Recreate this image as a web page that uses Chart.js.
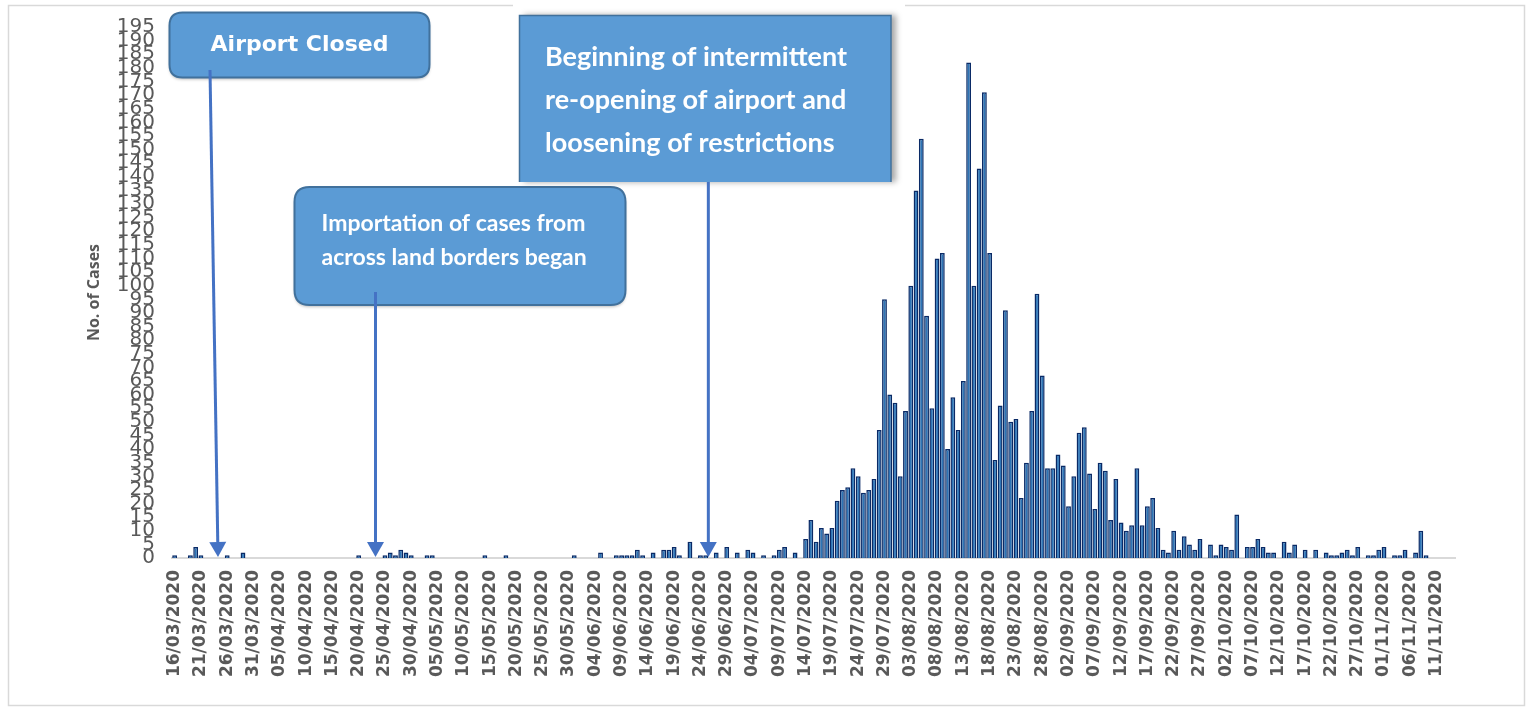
<!DOCTYPE html>
<html>
<head>
<meta charset="utf-8">
<script src="https://cdn.jsdelivr.net/npm/chart.js@4.4.1/dist/chart.umd.min.js"></script>
<style>
  html, body { margin: 0; padding: 0; background: #ffffff; }
  #wrap { position: relative; width: 1531px; height: 711px; }
</style>
</head>
<body>
<div id="wrap"><canvas id="c"></canvas></div>
<script>
// ---- Data ----
const START_DATE = [2020, 2, 16];   // 16/03/2020
const DAY_COUNT = 244;              // 16/03/2020 .. 14/11/2020
const LABEL_EVERY = 5;
const LAST_LABEL_INDEX = 240;       // 11/11/2020

// daily new cases, index 0 = 16/03/2020
const cases = [
  1,0,0,1,4,1,0,0,0,0,          // 16/03 - 25/03
  1,0,0,2,0,0,0,0,0,0,          // 26/03 - 04/04
  0,0,0,0,0,0,0,0,0,0,          // 05/04 - 14/04
  0,0,0,0,0,1,0,0,0,0,          // 15/04 - 24/04
  1,2,1,3,2,1,0,0,1,1,          // 25/04 - 04/05
  0,0,0,0,0,0,0,0,0,1,          // 05/05 - 14/05
  0,0,0,1,0,0,0,0,0,0,          // 15/05 - 24/05
  0,0,0,0,0,0,1,0,0,0,          // 25/05 - 03/06
  0,2,0,0,1,1,1,1,3,1,          // 04/06 - 13/06
  0,2,0,3,3,4,1,0,6,0,          // 14/06 - 23/06
  1,1,0,2,0,4,0,2,0,3,          // 24/06 - 03/07
  2,0,1,0,1,3,4,0,2,0,          // 04/07 - 13/07
  7,14,6,11,9,11,21,25,26,33,   // 14/07 - 23/07
  30,24,25,29,47,95,60,57,30,54, // 24/07 - 02/08
  100,135,154,89,55,110,112,40,59,47, // 03/08 - 12/08
  65,182,100,143,171,112,36,56,91,50, // 13/08 - 22/08
  51,22,35,54,97,67,33,33,38,34, // 23/08 - 01/09
  19,30,46,48,31,18,35,32,14,29, // 02/09 - 11/09
  13,10,12,33,12,19,22,11,3,2,   // 12/09 - 21/09
  10,3,8,5,3,7,0,5,1,5,          // 22/09 - 01/10
  4,3,16,0,4,4,7,4,2,2,          // 02/10 - 11/10
  0,6,2,5,0,3,0,3,0,2,           // 12/10 - 21/10
  1,1,2,3,1,4,0,1,1,3,           // 22/10 - 31/10
  4,0,1,1,3,0,2,10,1,0,          // 01/11 - 10/11
  0,0,0,0                        // 11/11 - 14/11
];

const yTicks = { min: 0, max: 195, step: 5 };

// annotation texts and the (fractional) day index each arrow points at
const notes = [
  { lines: ['Airport Closed'], at: 8.25 },
  { lines: ['Importation of cases from', 'across land borders began'], at: 38.2 },
  { lines: ['Beginning of intermittent', 're-opening of airport and', 'loosening of restrictions'], at: 101.5 }
];

// ---- Category labels (dates) ----
function pad(n) { return (n < 10 ? '0' : '') + n; }
const dates = [];
for (let i = 0; i < DAY_COUNT; i++) {
  const d = new Date(Date.UTC(START_DATE[0], START_DATE[1], START_DATE[2] + i));
  dates.push(pad(d.getUTCDate()) + '/' + pad(d.getUTCMonth() + 1) + '/' + d.getUTCFullYear());
}

// ---- Layout constants ----
const PAD_LEFT = 85, PAD_RIGHT = 76, PAD_TOP = 17;
const CHART_LEFT = 172, CHART_BOTTOM = 558, H = 711;

function roundRect(ctx, x, y, w, h, r) {
  ctx.beginPath();
  ctx.moveTo(x + r, y);
  ctx.lineTo(x + w - r, y);
  ctx.quadraticCurveTo(x + w, y, x + w, y + r);
  ctx.lineTo(x + w, y + h - r);
  ctx.quadraticCurveTo(x + w, y + h, x + w - r, y + h);
  ctx.lineTo(x + r, y + h);
  ctx.quadraticCurveTo(x, y + h, x, y + h - r);
  ctx.lineTo(x, y + r);
  ctx.quadraticCurveTo(x, y, x + r, y);
  ctx.closePath();
}

function arrow(ctx, x1, y1, x2, y2) {
  ctx.save();
  ctx.strokeStyle = '#4472C4';
  ctx.fillStyle = '#4472C4';
  ctx.lineWidth = 3;
  const a = Math.atan2(y2 - y1, x2 - x1);
  const hl = 15, hw = 8.5;
  const bx = x2 - hl * Math.cos(a), by = y2 - hl * Math.sin(a);
  ctx.beginPath(); ctx.moveTo(x1, y1); ctx.lineTo(bx, by); ctx.stroke();
  ctx.beginPath();
  ctx.moveTo(x2, y2);
  ctx.lineTo(bx + hw * Math.sin(a), by - hw * Math.cos(a));
  ctx.lineTo(bx - hw * Math.sin(a), by + hw * Math.cos(a));
  ctx.closePath(); ctx.fill();
  ctx.restore();
}

function idxPixel(scale, f) {
  const i = Math.floor(f);
  const p0 = scale.getPixelForValue(i), p1 = scale.getPixelForValue(i + 1);
  return p0 + (f - i) * (p1 - p0);
}

const framePlugin = {
  id: 'frame',
  beforeDraw(chart) {
    const ctx = chart.ctx;
    ctx.save();
    ctx.fillStyle = '#ffffff';
    ctx.fillRect(0, 0, chart.width, chart.height);
    ctx.strokeStyle = '#d9d9d9';
    ctx.lineWidth = 1.5;
    ctx.beginPath();
    ctx.moveTo(513, 5.5); ctx.lineTo(8.5, 5.5); ctx.lineTo(8.5, 705.5);
    ctx.lineTo(1524.5, 705.5); ctx.lineTo(1524.5, 5.5); ctx.lineTo(905, 5.5);
    ctx.stroke();
    ctx.restore();
  },
  afterDraw(chart) {
    const ctx = chart.ctx;
    const xs = chart.scales.x;
    const base = chart.chartArea.bottom - 1;
    ctx.save();
    // Box 1
    ctx.save();
    ctx.shadowColor = 'rgba(0,0,0,0.25)'; ctx.shadowBlur = 3; ctx.shadowOffsetY = 2;
    roundRect(ctx, 169.5, 12.5, 260, 65, 13);
    ctx.fillStyle = '#5B9BD5'; ctx.fill();
    ctx.restore();
    roundRect(ctx, 169.5, 12.5, 260, 65, 13);
    ctx.strokeStyle = '#41719C'; ctx.lineWidth = 2; ctx.stroke();
    ctx.fillStyle = '#ffffff';
    ctx.textAlign = 'center'; ctx.textBaseline = 'alphabetic';
    ctx.font = 'bold 22px "DejaVu Sans"';
    ctx.fillText(notes[0].lines[0], 299.5, 50.5, 186);

    // Box 2
    ctx.save();
    ctx.shadowColor = 'rgba(0,0,0,0.25)'; ctx.shadowBlur = 3; ctx.shadowOffsetY = 2;
    roundRect(ctx, 294.5, 187, 331, 118, 15);
    ctx.fillStyle = '#5B9BD5'; ctx.fill();
    ctx.restore();
    roundRect(ctx, 294.5, 187, 331, 118, 15);
    ctx.strokeStyle = '#41719C'; ctx.lineWidth = 2; ctx.stroke();
    ctx.fillStyle = '#ffffff';
    ctx.textAlign = 'left';
    ctx.font = 'bold 23px "Lato"';
    ctx.fillText(notes[1].lines[0], 321.5, 230.5, 269);
    ctx.fillText(notes[1].lines[1], 321.5, 265, 270);

    // Box 3
    ctx.save();
    ctx.shadowColor = 'rgba(0,0,0,0.35)'; ctx.shadowBlur = 6; ctx.shadowOffsetX = 5;
    ctx.fillStyle = '#5B9BD5';
    ctx.fillRect(519, 15, 372, 167);
    ctx.restore();
    ctx.strokeStyle = '#41719C'; ctx.lineWidth = 1.5;
    ctx.beginPath(); ctx.moveTo(519.5, 182); ctx.lineTo(519.5, 15.5); ctx.lineTo(891, 15.5); ctx.lineTo(891, 182); ctx.stroke();
    ctx.fillStyle = '#ffffff';
    ctx.font = 'bold 27px "Lato"';
    ctx.fillText(notes[2].lines[0], 545, 66, 312);
    ctx.fillText(notes[2].lines[1], 545, 108.5, 310);
    ctx.fillText(notes[2].lines[2], 545, 151.5, 296);

    // Arrows
    arrow(ctx, 210, 70, idxPixel(xs, notes[0].at), base);
    const x2 = idxPixel(xs, notes[1].at);
    arrow(ctx, x2, 292, x2, base);
    const x3 = idxPixel(xs, notes[2].at);
    arrow(ctx, x3, 182, x3, base);
    ctx.restore();
  }
};

new Chart(document.getElementById('c'), {
  type: 'bar',
  data: {
    labels: dates,
    datasets: [{
      data: cases,
      backgroundColor: '#2E75B6',
      borderColor: '#0A2A66',
      borderWidth: 1.5,
      barPercentage: 0.92,
      categoryPercentage: 1.0
    }]
  },
  options: {
    responsive: true,
    maintainAspectRatio: false,
    animation: false,
    devicePixelRatio: 1,
    layout: { padding: { left: PAD_LEFT, right: PAD_RIGHT, top: PAD_TOP, bottom: 0 } },
    plugins: { legend: { display: false }, tooltip: { enabled: false } },
    scales: {
      x: {
        grid: { display: false, drawTicks: false },
        border: { display: true, color: '#d9d9d9', width: 2 },
        ticks: {
          autoSkip: false, maxRotation: 90, minRotation: 90, padding: 12,
          color: '#595959',
          font: { family: 'DejaVu Sans', weight: 'bold', size: 17 },
          callback: (v, i) => (i % LABEL_EVERY === 0 && i <= LAST_LABEL_INDEX) ? dates[i] : ''
        },
        afterFit: s => { s.height = H - CHART_BOTTOM; }
      },
      y: {
        min: yTicks.min, max: yTicks.max,
        grid: { display: false, drawTicks: false },
        border: { display: false },
        ticks: {
          stepSize: yTicks.step, autoSkip: false, maxTicksLimit: 100, padding: 17,
          color: '#595959',
          font: { family: 'DejaVu Sans', size: 20, lineHeight: 1.0 }
        },
        title: {
          display: true, text: 'No. of Cases', color: '#595959', padding: 0,
          font: { family: 'Open Sans', weight: 'bold', size: 16 }
        },
        afterFit: s => { s.width = CHART_LEFT - PAD_LEFT; }
      }
    }
  },
  plugins: [framePlugin]
});
</script>
</body>
</html>
